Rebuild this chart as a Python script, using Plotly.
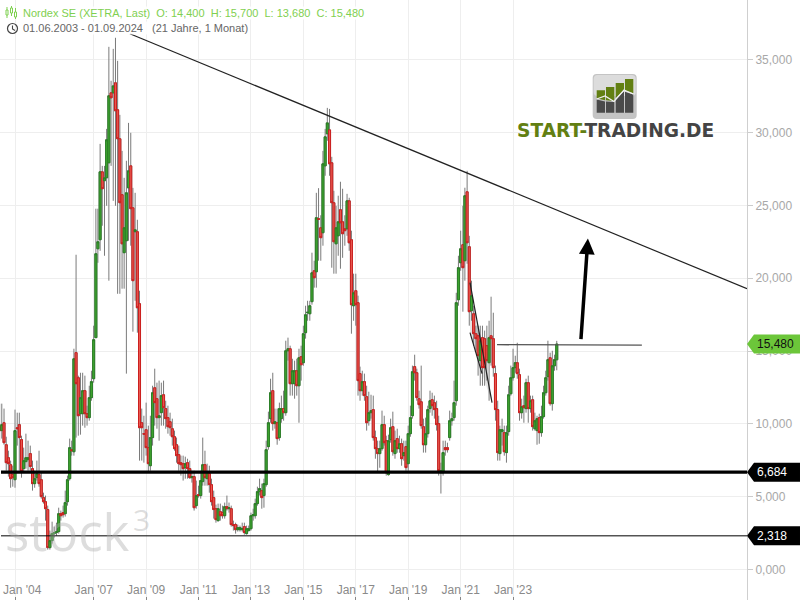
import numpy as np
import pandas as pd
import plotly.graph_objects as go

opens = [9.81,9.54,10.08,8.57,7.68,7.20,6.52,6.17,9.74,9.95,
8.92,6.93,7.41,7.55,7.96,6.93,5.90,6.31,6.52,6.17,
4.94,4.66,4.12,1.51,1.99,2.47,2.54,2.61,3.84,3.91,
3.84,4.66,6.24,8.23,8.09,14.89,13.17,10.70,10.70,12.28,
10.70,10.43,11.80,13.10,15.92,22.02,22.64,27.30,26.69,26.89,
27.92,32.72,32.72,33.41,31.56,29.57,25.73,21.75,22.57,26.20,
27.71,24.83,23.19,23.19,18.25,10.08,9.33,9.60,8.37,7.13,
9.06,12.48,11.73,10.43,10.77,12.00,11.05,10.43,10.15,9.67,
9.12,8.57,7.89,7.34,7.27,7.00,7.34,6.93,6.31,6.38,
4.39,5.15,5.08,6.04,7.20,6.24,6.59,5.83,4.94,4.18,
3.36,3.98,3.91,3.70,4.32,4.18,4.18,3.09,3.09,2.74,
2.74,2.74,2.95,2.47,2.68,2.81,3.70,3.70,4.53,5.35,
5.42,5.08,5.83,8.44,10.36,12.28,10.02,10.08,9.06,10.36,
11.05,10.77,15.02,15.16,12.76,12.76,13.65,12.62,14.61,14.20,
16.26,17.63,17.56,18.39,20.51,20.44,24.08,23.46,23.12,27.71,
29.91,30.18,27.92,25.18,22.36,22.91,24.70,23.87,23.39,23.39,
25.31,22.64,18.11,19.14,18.32,13.45,12.28,12.90,11.87,10.22,
10.77,10.98,9.06,8.30,7.96,8.30,9.95,8.85,6.52,8.92,
9.81,7.96,8.99,8.30,8.64,7.82,8.44,7.27,9.33,10.56,
13.93,13.51,11.73,11.52,9.81,8.57,9.33,11.05,11.66,11.46,
11.05,10.02,6.65,6.65,8.37,8.37,9.06,10.22,10.43,11.59,
18.52,21.06,22.30,21.20,25.93,22.16,17.77,17.56,16.19,16.05,
14.34,15.92,15.85,15.37,14.20,16.05,15.85,13.45,10.98,7.96,
9.47,9.40,8.03,9.47,12.07,13.17,13.86,14.20,13.38,10.77,
11.25,11.05,12.83,11.05,11.66,9.67,9.54,10.43,9.40,10.50,
12.14,13.24,14.54,11.39,13.99,14.40]

closes = [9.54,9.95,8.71,7.34,7.27,6.24,6.31,9.54,9.67,9.06,
6.72,7.48,7.68,7.68,7.07,5.90,6.24,6.59,5.90,5.01,
4.66,4.18,1.51,1.99,2.47,2.54,2.61,3.84,3.70,3.77,
4.60,6.17,8.37,8.16,14.47,12.76,10.56,11.80,12.28,10.70,
10.43,11.80,12.90,15.78,21.68,22.50,27.30,26.14,26.89,29.50,
32.52,32.38,33.20,31.49,29.57,25.18,22.36,23.46,25.86,27.37,
24.77,19.83,23.32,17.97,9.74,9.74,9.30,8.37,7.27,9.06,
12.14,11.46,10.43,10.56,11.94,11.11,10.36,9.81,9.74,9.12,
8.30,7.82,7.27,7.20,6.93,7.27,6.93,6.31,6.38,4.25,
5.08,5.08,6.11,7.20,6.31,6.65,5.83,4.66,4.12,3.43,
4.18,3.70,3.70,4.32,4.18,4.25,3.09,3.02,2.74,2.88,
2.88,2.81,2.54,2.81,2.81,3.70,3.77,4.53,5.35,5.56,
4.94,5.90,8.23,10.08,12.14,10.02,10.15,8.99,11.05,11.05,
10.77,15.02,15.16,12.76,13.65,13.65,12.62,14.54,14.06,16.19,
17.49,17.66,18.11,20.37,20.03,24.15,24.05,22.78,27.85,29.70,
30.66,27.85,25.18,22.50,23.46,23.87,23.80,23.05,23.26,25.31,
22.43,18.18,19.00,18.18,12.97,12.28,12.90,11.94,10.08,10.77,
10.91,9.06,8.30,7.96,8.30,9.95,8.71,6.65,8.85,9.74,
8.09,8.85,8.30,8.64,7.61,8.03,7.00,9.33,10.43,13.58,
13.51,11.80,11.32,9.88,8.57,9.33,10.98,11.59,11.25,10.98,
9.95,6.79,6.79,8.03,8.23,8.23,10.22,10.36,11.46,18.32,
20.72,22.02,20.72,25.66,22.43,17.70,18.80,16.19,15.85,14.68,
15.71,13.86,13.86,14.34,15.92,15.85,13.86,10.98,8.03,9.60,
9.60,8.09,9.40,12.00,13.17,13.86,14.20,13.45,10.77,11.18,
11.11,12.83,11.05,11.59,9.81,10.22,10.36,9.40,10.50,12.14,
13.17,14.41,11.39,13.99,14.41,15.48]

highs = [11.39,11.39,11.05,9.12,8.16,7.48,7.13,10.98,10.77,10.77,
9.19,8.37,9.33,8.85,8.51,7.48,6.79,7.48,8.16,6.65,
5.28,5.08,4.39,2.68,3.29,2.95,3.22,4.25,4.05,4.39,
5.42,6.45,8.99,8.85,15.16,21.61,13.31,13.51,13.51,13.31,
11.25,12.62,13.65,16.74,24.77,24.77,29.22,27.71,27.71,30.25,
35.88,33.55,35.74,36.50,34.92,31.21,28.74,26.89,28.06,30.66,
29.98,26.20,25.86,24.01,19.14,11.05,10.56,11.46,9.88,10.56,
12.62,13.79,12.83,12.97,12.83,12.97,11.59,11.25,10.77,10.36,
9.54,9.06,8.51,7.82,7.82,7.75,7.61,7.48,6.79,6.79,
6.11,5.76,6.79,9.06,8.16,7.27,7.13,6.24,5.42,4.46,
4.53,4.53,4.39,4.60,5.08,4.60,4.39,3.36,3.22,3.09,
3.02,3.22,3.22,3.02,3.02,3.91,4.18,4.87,5.69,6.24,
5.90,6.24,8.85,10.84,13.10,13.51,11.05,11.05,11.46,11.94,
12.28,15.71,15.92,15.37,14.47,14.34,14.47,15.16,15.37,16.74,
18.11,18.45,18.45,21.75,21.20,25.86,26.18,24.32,28.74,30.25,
31.69,31.62,28.33,26.00,24.97,25.66,26.62,26.14,24.32,25.79,
25.52,23.26,20.31,20.31,18.80,13.93,13.65,13.45,12.62,12.21,
12.00,11.94,9.54,8.85,8.85,10.91,10.56,9.19,9.26,10.36,
10.84,9.54,9.67,9.19,8.99,8.85,8.85,9.88,11.25,14.00,
14.75,13.79,12.28,14.00,10.36,10.43,11.25,12.28,12.14,11.94,
11.59,10.56,7.34,8.85,8.85,8.71,10.91,10.77,12.97,19.00,
21.54,23.26,24.97,26.21,27.37,22.91,19.83,18.11,16.74,16.74,
16.74,16.74,16.40,16.74,17.08,18.73,17.63,14.00,11.59,9.88,
10.36,9.88,9.88,12.62,14.00,15.16,14.68,15.57,13.79,11.73,
11.94,13.10,13.31,11.94,11.94,10.77,10.56,10.70,11.25,12.62,
13.65,15.71,14.89,15.02,14.75,15.70]

lows = [8.85,8.99,8.57,6.79,6.38,5.62,5.69,5.62,8.51,6.79,
6.31,6.65,6.93,6.79,6.79,5.42,5.62,6.11,5.69,4.87,
4.53,3.36,1.37,1.37,1.78,2.20,2.33,2.47,3.36,3.57,
3.64,4.39,6.11,7.82,7.82,9.06,9.19,9.26,9.88,9.74,
9.88,10.22,11.59,12.83,18.59,21.06,21.88,23.60,21.54,24.97,
19.83,27.71,25.31,24.97,18.93,18.93,19.28,19.28,13.45,22.57,
22.23,16.33,18.45,16.26,7.48,7.48,7.34,7.82,6.72,6.79,
8.51,9.88,9.67,8.85,9.88,9.88,9.67,9.33,9.19,8.51,
8.16,7.34,6.79,6.45,6.11,6.24,6.24,6.24,5.97,4.05,
4.18,4.94,4.87,5.76,5.76,5.76,5.28,4.39,3.50,3.22,
3.29,3.36,3.50,3.50,4.05,3.91,2.95,2.68,2.47,2.61,
2.61,2.61,2.40,2.40,2.61,2.68,3.36,3.50,4.39,5.08,
4.18,4.25,5.69,8.23,10.08,9.54,9.67,8.57,8.85,10.08,
10.22,10.56,14.34,11.94,11.94,11.73,11.94,10.08,12.97,13.99,
15.85,17.08,17.08,18.18,19.35,19.35,21.20,21.20,22.23,27.03,
29.43,27.03,20.72,20.31,20.31,21.54,20.65,21.40,22.23,22.91,
21.88,16.19,17.08,16.74,11.94,11.59,11.94,11.59,9.54,9.88,
10.36,8.85,7.61,6.65,6.99,8.16,8.51,6.45,6.45,8.71,
7.82,7.61,8.02,8.02,7.13,7.48,6.79,6.79,9.12,10.36,
12.97,11.59,11.05,9.67,8.03,8.03,9.06,10.77,10.56,10.36,
9.54,6.45,5.22,6.45,7.82,8.03,8.85,9.88,10.22,11.25,
18.11,20.51,17.70,19.83,20.99,16.74,17.08,15.37,15.02,13.31,
12.62,12.62,12.62,12.97,11.59,14.00,13.24,10.22,7.48,7.48,
8.51,7.82,7.34,9.19,11.94,12.97,13.51,13.10,10.22,10.36,
10.08,10.77,10.08,10.77,9.54,9.54,8.57,8.64,9.12,10.36,
11.94,12.97,11.25,10.91,13.65,13.68]

months = pd.date_range("2003-06-01", periods=len(opens), freq="MS")

price_ticks = [0, 5, 10, 15, 20, 25, 30, 35]
price_labels = ["0,000", "5,000", "10,000", "15,000", "20,000", "25,000", "30,000", "35,000"]
date_ticks = ["2004-01-01", "2007-01-01", "2009-01-01", "2011-01-01", "2013-01-01",
              "2015-01-01", "2017-01-01", "2019-01-01", "2021-01-01", "2023-01-01"]
date_labels = ["", "Jan '07", "Jan '09", "Jan '11", "Jan '13",
               "Jan '15", "Jan '17", "Jan '19", "Jan '21", "Jan '23"]

last_price, last_label = 15.48, "15,480"
support_high, support_high_label = 6.684, "6,684"
support_low, support_low_label = 2.318, "2,318"

trend = (("2008-05-20", 36.78), ("2031-12-05", 19.28))
resistance = (("2022-05-23", 15.44), ("2027-12-01", 15.41))
wedge = (("2021-05-11", 19.70), ("2022-03-14", 11.46), ("2021-10-26", 13.45), ("2021-05-11", 16.26))
target_arrow = (("2025-08-03", 15.72), ("2025-11-09", 22.72))

W, H = 800, 600
PW, PH = 747, 600
ZERO_PX, PX_PER_UNIT = 569.6, 14.57
FONT = "Liberation Sans"
GREEN_TXT = "#7fd050"


def px(x):
    return x / PW


def py(y):
    return 1 - y / PH


opens_a, closes_a = np.array(opens), np.array(closes)

fig = go.Figure()
# wicks
fig.add_trace(go.Candlestick(
    x=months, open=opens, high=highs, low=lows, close=closes,
    increasing=dict(line=dict(color="#7a7a7a", width=1), fillcolor="#7a7a7a"),
    decreasing=dict(line=dict(color="#7a7a7a", width=1), fillcolor="#7a7a7a"),
    name="Docht", hoverinfo="skip",
))
# bodies
fig.add_trace(go.Candlestick(
    x=months, open=opens, close=closes,
    high=np.maximum(opens_a, closes_a), low=np.minimum(opens_a, closes_a),
    increasing=dict(line=dict(color="#2a7f26", width=1), fillcolor="#3fa52f"),
    decreasing=dict(line=dict(color="#cc1f1f", width=1), fillcolor="#e85a50"),
    name="Nordex SE",
))

shapes = []


def rect(x0, y0, x1, y1, fill, line=None, w=0):
    shapes.append(dict(type="rect", xref="paper", yref="paper", x0=px(x0), x1=px(x1), y0=py(y0), y1=py(y1),
                       fillcolor=fill, line=dict(color=line or fill, width=w), layer="above"))


def poly(points, fill=None, line="rgba(0,0,0,0)", w=0, close=True):
    d = "M " + " L ".join(f"{px(a):.5f},{py(b):.5f}" for a, b in points) + (" Z" if close else "")
    shapes.append(dict(type="path", xref="paper", yref="paper", path=d,
                       fillcolor=fill or "rgba(0,0,0,0)", line=dict(color=line, width=w), layer="above"))


def rounded(x0, y0, x1, y1, r, fill):
    d = (f"M {px(x0 + r):.5f},{py(y0):.5f} L {px(x1 - r):.5f},{py(y0):.5f} "
         f"Q {px(x1):.5f},{py(y0):.5f} {px(x1):.5f},{py(y0 + r):.5f} L {px(x1):.5f},{py(y1 - r):.5f} "
         f"Q {px(x1):.5f},{py(y1):.5f} {px(x1 - r):.5f},{py(y1):.5f} L {px(x0 + r):.5f},{py(y1):.5f} "
         f"Q {px(x0):.5f},{py(y1):.5f} {px(x0):.5f},{py(y1 - r):.5f} L {px(x0):.5f},{py(y0 + r):.5f} "
         f"Q {px(x0):.5f},{py(y0):.5f} {px(x0 + r):.5f},{py(y0):.5f} Z")
    shapes.append(dict(type="path", xref="paper", yref="paper", path=d, fillcolor=fill,
                       line=dict(width=0), layer="above"))


# drawing tools in data space
shapes.append(dict(type="path", xref="x", yref="y", layer="below",
                   path="M " + " L ".join(f"{d},{v}" for d, v in wedge) + " Z",
                   fillcolor="rgba(190,190,190,0.4)", line=dict(width=0)))
for a, b in ((wedge[0], wedge[1]), (wedge[3], wedge[2])):
    shapes.append(dict(type="line", xref="x", yref="y", x0=a[0], y0=a[1], x1=b[0], y1=b[1],
                       line=dict(color="#222", width=1.2), layer="above"))
shapes.append(dict(type="line", xref="x", yref="y", x0=trend[0][0], y0=trend[0][1], x1=trend[1][0], y1=trend[1][1],
                   line=dict(color="#222", width=1.2), layer="above"))
shapes.append(dict(type="line", xref="x", yref="y", x0=resistance[0][0], y0=resistance[0][1],
                   x1=resistance[1][0], y1=resistance[1][1], line=dict(color="#555", width=1.4), layer="above"))
shapes.append(dict(type="line", xref="paper", yref="y", x0=px(1), x1=1, y0=support_high, y1=support_high,
                   line=dict(color="#000", width=3.3), layer="above"))
shapes.append(dict(type="line", xref="paper", yref="y", x0=px(1), x1=1, y0=support_low, y1=support_low,
                   line=dict(color="#000", width=1), layer="above"))

# value tags on the price axis
for value, fill in ((last_price, "#6cc63a"), (support_high, "#000000"), (support_low, "#000000")):
    half = 9.5 / PX_PER_UNIT
    xs = (px(747), px(754), px(800))
    shapes.append(dict(type="path", xref="paper", yref="y", layer="above", fillcolor=fill, line=dict(width=0),
                       path=(f"M {xs[0]:.5f},{value} L {xs[1]:.5f},{value + half} L {xs[2]:.5f},{value + half} "
                             f"L {xs[2]:.5f},{value - half} L {xs[1]:.5f},{value - half} Z")))

# legend icons: candle glyph
for x0, y0, y1, wy0, wy1 in ((6, 10, 15, 7, 18), (10.5, 8, 13, 6, 16), (14.5, 12, 17, 8, 19)):
    poly([(x0 + 1, wy0), (x0 + 1, wy1)], line=GREEN_TXT, w=1, close=False)
    rect(x0, y0, x0 + 2, y1, "white", GREEN_TXT, 1)
# clock glyph
shapes.append(dict(type="circle", xref="paper", yref="paper", x0=px(7.5), x1=px(17.5), y0=py(33.5), y1=py(23.5),
                   line=dict(color="#444", width=1.2), layer="above"))
poly([(12.5, 25.5), (12.5, 29), (15, 30.5)], line="#444", w=1.1, close=False)

# start-trading logo icon
rounded(592.7, 74, 636.7, 119, 4, "#c4c4c4")
rounded(593.7, 75, 635.7, 96, 4, "#dcdcdc")
tops = (90.3, 87, 83, 79)
cols = ((596.7, 605), (606, 614.3), (615.7, 624), (625, 633.3))
ridge = ((98.3, 100.3), (100.3, 100.9), (98, 90), (90.5, 93.3))
for (a, b), top, (r0, r1) in zip(cols, tops, ridge):
    poly([(a, top), (b, top), (b, r1), (a, r0)], fill="#627f12")
    poly([(a, r0 + 1.2), (b, r1 + 1.2), (b, 112.7), (a, 112.7)], fill="#4a4a4a")
poly([(596.7, 99), (605, 96), (614, 101.5), (624, 90), (633.3, 94)], line="#f0f0f0", w=1.3, close=False)

ann = []


def text(x, y, s, color, size=12, anchor="left", bg=None, family=FONT):
    ann.append(dict(xref="paper", yref="paper", x=px(x), y=py(y), text=s, showarrow=False, xanchor=anchor,
                    yanchor="middle", font=dict(family=family, size=size, color=color),
                    bgcolor=bg or "rgba(0,0,0,0)", borderpad=0))


text(4, 531, "stock", "rgba(175,175,175,0.42)", 51, family="Open Sans")
text(132, 519, "3", "rgba(175,175,175,0.42)", 30, family="Open Sans")
text(22, 12.5, "Nordex SE (XETRA, Last)&nbsp;&nbsp;O: 14,400&nbsp;&nbsp;H: 15,700&nbsp;&nbsp;L: 13,680&nbsp;&nbsp;C: 15,480",
     GREEN_TXT, 11, bg="rgba(255,255,255,0.85)")
text(22, 28.5, "01.06.2003 - 01.09.2024&nbsp;&nbsp;&nbsp;(21 Jahre, 1 Monat)", "#666666", 11,
     bg="rgba(255,255,255,0.85)")
text(615, 130, "<b><span style='color:#627f12'>START-</span><span style='color:#444444'>TRADING.DE</span></b>",
     "#444444", 18.6, anchor="center", family="DejaVu Sans")
text(1.5, 590, "Jan '04", "#8a8a8a")

for value, label, color in ((last_price, last_label, "#111111"), (support_high, support_high_label, "#ffffff"),
                            (support_low, support_low_label, "#ffffff")):
    ann.append(dict(xref="paper", yref="y", x=px(755.5), y=value, text=label, showarrow=False, xanchor="left",
                    yanchor="middle", font=dict(family=FONT, size=12, color=color)))

ann.append(dict(x=target_arrow[1][0], y=target_arrow[1][1], ax=target_arrow[0][0], ay=target_arrow[0][1],
                xref="x", yref="y", axref="x", ayref="y", text="", showarrow=True, arrowhead=2,
                arrowsize=0.9, arrowwidth=3.5, arrowcolor="#000000"))

fig.update_layout(
    width=W, height=H, autosize=False, showlegend=False, paper_bgcolor="white", plot_bgcolor="white",
    margin=dict(l=0, r=W - PW, t=0, b=0), boxgap=0, boxgroupgap=0, boxmode="overlay",
    font=dict(family=FONT, size=12),
    shapes=shapes, annotations=ann,
    xaxis=dict(type="date", range=["2003-06-06", "2031-12-05"], rangeslider=dict(visible=False),
               tickmode="array", tickvals=date_ticks, ticktext=date_labels,
               ticks="inside", ticklen=3, tickcolor="#888", ticklabelposition="inside",
               tickfont=dict(color="#8a8a8a", size=12, family=FONT),
               showgrid=True, gridcolor="#eeeeee", gridwidth=1, zeroline=False, showline=False),
    yaxis=dict(side="right", range=[(ZERO_PX - PH) / PX_PER_UNIT, ZERO_PX / PX_PER_UNIT],
               tickmode="array", tickvals=price_ticks, ticktext=price_labels,
               ticks="outside", ticklen=5, tickcolor="#cccccc",
               tickfont=dict(color="#a8a8a8", size=12, family=FONT),
               showgrid=True, gridcolor="#eeeeee", gridwidth=1, zeroline=False,
               showline=True, linecolor="#cfcfcf", linewidth=1),
)

fig.write_html("out.html", config=dict(displayModeBar=False),
               post_script="document.body.style.margin='0';")
